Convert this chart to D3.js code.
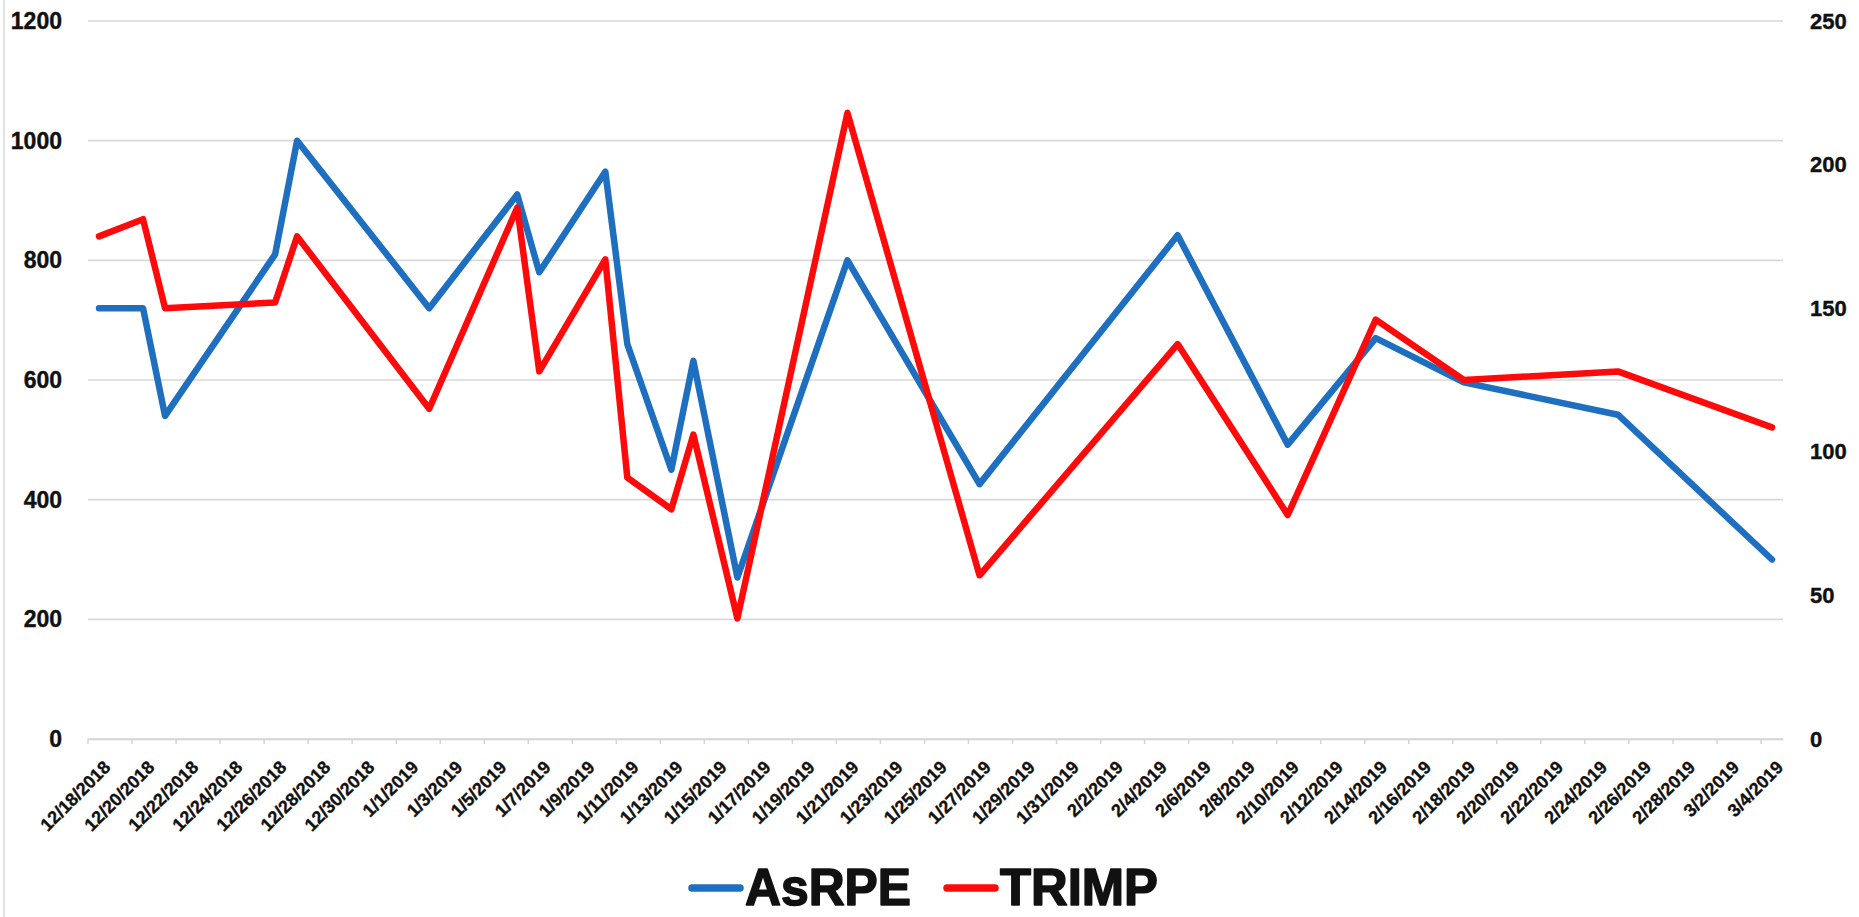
<!DOCTYPE html>
<html>
<head>
<meta charset="utf-8">
<script src="https://cdn.jsdelivr.net/npm/d3@7"></script>
<style>
  html, body { margin: 0; padding: 0; background: #ffffff; }
  svg { display: block; }
  .lbl { font-family: "Liberation Sans", Arial, sans-serif; font-weight: bold; fill: #111; }
</style>
</head>
<body>
<svg id="chart" width="1859" height="917"></svg>
<script>
// Session dates and the two training-load measures
const sessionDates = ["12/18/2018","12/20/2018","12/21/2018","12/26/2018","12/27/2018",
  "1/2/2019","1/6/2019","1/7/2019","1/10/2019","1/11/2019","1/13/2019","1/14/2019",
  "1/16/2019","1/21/2019","1/27/2019","2/5/2019","2/10/2019","2/14/2019","2/18/2019",
  "2/25/2019","3/4/2019"];
const asRPE = [720, 720, 540, 810, 1000, 720, 910, 780, 948, 660, 450, 632,
  270, 800, 426, 842, 492, 670, 596, 542, 300];
const trimp = [175, 181, 150, 152, 175, 115, 185, 128, 167, 91, 80, 106,
  42, 218, 57, 137.5, 78, 146, 125, 128, 108.5];

// Axis ranges and ticks
const axisStart = "12/18/2018";
const axisEnd = "3/4/2019";
const leftTicks = [0, 200, 400, 600, 800, 1000, 1200];
const rightTicks = [0, 50, 100, 150, 200, 250];
const seriesNames = ["AsRPE", "TRIMP"];
const seriesColors = ["#1f6fc0", "#ff0a0a"];

const parse = d3.timeParse("%m/%d/%Y");
const fmt = d => `${d.getMonth() + 1}/${d.getDate()}/${d.getFullYear()}`;

const svg = d3.select("#chart");
const plot = { left: 88, right: 1783, top: 21, bottom: 739 };

// One band per calendar day (date axis)
const days = d3.timeDay.range(parse(axisStart), d3.timeDay.offset(parse(axisEnd), 1));
const x = d3.scaleBand().domain(days.map(fmt)).range([plot.left, plot.right]).paddingInner(0).paddingOuter(0);
const cx = s => x(fmt(parse(s))) + x.bandwidth() / 2;

const yL = d3.scaleLinear().domain([0, 1200]).range([plot.bottom, plot.top]);
const yR = d3.scaleLinear().domain([0, 250]).range([plot.bottom, plot.top]);

// Frame edge on the left
svg.append("line").attr("x1", 4).attr("x2", 4).attr("y1", 0).attr("y2", 917)
  .attr("stroke", "#e2e2e2").attr("stroke-width", 2);

// Horizontal gridlines
svg.append("g").selectAll("line").data(leftTicks).join("line")
  .attr("x1", plot.left).attr("x2", plot.right)
  .attr("y1", d => yL(d)).attr("y2", d => yL(d))
  .attr("stroke", "#d9d9d9").attr("stroke-width", 1.6);

// Left value axis
const gL = svg.append("g").attr("transform", `translate(${plot.left},0)`)
  .call(d3.axisLeft(yL).tickValues(leftTicks).tickFormat(d3.format("d")).tickSize(0).tickPadding(26));
gL.select(".domain").remove();
gL.selectAll("text").attr("class", "lbl").attr("font-size", 23).style("font-family", null)
  .attr("stroke", "#111").attr("stroke-width", 0.4);

// Right value axis
const gR = svg.append("g").attr("transform", `translate(${plot.right},0)`)
  .call(d3.axisRight(yR).tickValues(rightTicks).tickFormat(d3.format("d")).tickSize(0).tickPadding(27));
gR.select(".domain").remove();
gR.selectAll("text").attr("class", "lbl").attr("font-size", 22).style("font-family", null)
  .attr("stroke", "#111").attr("stroke-width", 0.4);

// Date axis: tick marks at every other day boundary, labels every other day
const everyOther = days.filter((d, i) => i % 2 === 0).map(fmt);
const gX = svg.append("g").attr("transform", `translate(0,${plot.bottom})`)
  .call(d3.axisBottom(x).tickValues(everyOther).tickSize(0).tickPadding(0));
gX.select(".domain").attr("stroke", "#d4d4d4").attr("stroke-width", 1.6);
gX.selectAll(".tick").each(function(d) {
  const t = d3.select(this);
  t.select("text")
    .attr("class", "lbl")
    .attr("font-size", 18)
    .style("font-family", null)
    .attr("stroke", "#111").attr("stroke-width", 0.35)
    .attr("text-anchor", "end")
    .attr("dy", "0.35em")
    .attr("transform", `translate(8,25) rotate(-45)`)
    .attr("y", 0).attr("x", 0);
  t.append("line")
    .attr("x1", -x.bandwidth() / 2).attr("x2", -x.bandwidth() / 2)
    .attr("y1", 0).attr("y2", 5)
    .attr("stroke", "#d4d4d4").attr("stroke-width", 1.5);
});

// Series lines
const lineL = d3.line().x((d, i) => cx(sessionDates[i])).y(d => yL(d));
const lineR = d3.line().x((d, i) => cx(sessionDates[i])).y(d => yR(d));

svg.append("path").datum(asRPE).attr("d", lineL)
  .attr("fill", "none").attr("stroke", seriesColors[0]).attr("stroke-width", 6.5)
  .attr("stroke-linejoin", "round").attr("stroke-linecap", "round");
svg.append("path").datum(trimp).attr("d", lineR)
  .attr("fill", "none").attr("stroke", seriesColors[1]).attr("stroke-width", 6.5)
  .attr("stroke-linejoin", "round").attr("stroke-linecap", "round");

// Legend
const legend = [
  { name: seriesNames[0], color: seriesColors[0], x: 692, len: 166 },
  { name: seriesNames[1], color: seriesColors[1], x: 947, len: 158 }
];
const lg = svg.append("g");
legend.forEach(d => {
  lg.append("line").attr("x1", d.x).attr("x2", d.x + 48).attr("y1", 888).attr("y2", 888)
    .attr("stroke", d.color).attr("stroke-width", 7.5).attr("stroke-linecap", "round");
  lg.append("text").attr("class", "lbl").attr("x", d.x + 53).attr("y", 905)
    .attr("font-size", 52).attr("textLength", d.len).attr("lengthAdjust", "spacingAndGlyphs")
    .attr("stroke", "#111").attr("stroke-width", 1.6).attr("stroke-linejoin", "round")
    .style("font-family", "'Liberation Sans Narrow', 'Liberation Sans', Arial, sans-serif")
    .text(d.name);
});
</script>
</body>
</html>
